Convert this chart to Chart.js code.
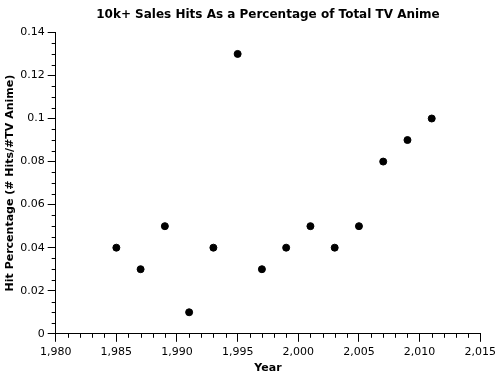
<!DOCTYPE html>
<html><head><meta charset="utf-8">
<script src="https://cdn.jsdelivr.net/npm/chart.js@4/dist/chart.umd.min.js"></script>
<style>html,body{margin:0;padding:0;background:#fff;}#wrap{width:500px;height:380px;}</style>
</head><body><div id="wrap"><canvas id="c" width="500" height="380"></canvas></div>
<script>
const years = [1985, 1987, 1989, 1991, 1993, 1995, 1997, 1999, 2001, 2003, 2005, 2007, 2009, 2011];
const hitPct = [0.04, 0.03, 0.05, 0.01, 0.04, 0.13, 0.03, 0.04, 0.05, 0.04, 0.05, 0.08, 0.09, 0.10];
const chartTitle = '10k+ Sales Hits As a Percentage of Total TV Anime';
const xTitle = 'Year';
const yTitle = 'Hit Percentage (# Hits/#TV Anime)';

const FONT = "'DejaVu Sans', Verdana, sans-serif";

const minorTicks = {
  id: 'minorTicks',
  afterDraw(chart) {
    const ctx = chart.ctx, xs = chart.scales.x, ys = chart.scales.y;
    ctx.save();
    ctx.strokeStyle = '#000';
    ctx.lineWidth = 1;
    ctx.beginPath();
    for (let v = 1980; v <= 2015; v++) {
      if (v % 5 === 0) continue;
      const px = Math.round(xs.getPixelForValue(v)) + 0.5;
      ctx.moveTo(px, ys.bottom);
      ctx.lineTo(px, ys.bottom + 4);
    }
    for (let i = 0; i <= 28; i++) {
      if (i % 4 === 0) continue;
      const py = Math.round(ys.getPixelForValue(i * 0.005)) + 0.5;
      ctx.moveTo(xs.left - 4, py);
      ctx.lineTo(xs.left, py);
    }
    ctx.stroke();
    ctx.restore();
  }
};

new Chart(document.getElementById('c'), {
  type: 'scatter',
  data: {
    datasets: [{
      data: years.map((y, i) => ({ x: y, y: hitPct[i] })),
      backgroundColor: '#000',
      borderColor: '#000',
      pointRadius: 3.5,
      pointHoverRadius: 3.5
    }]
  },
  options: {
    responsive: false,
    animation: false,
    devicePixelRatio: 1,
    layout: { padding: { left: 4, right: 7, top: 0, bottom: 6 } },
    plugins: {
      legend: { display: false },
      tooltip: { enabled: false },
      title: {
        display: true, text: chartTitle, color: '#000', fullSize: false,
        font: { family: FONT, size: 12, weight: 'bold' },
        padding: { top: 8, bottom: 10 }
      }
    },
    scales: {
      x: {
        type: 'linear', min: 1980, max: 2015,
        border: { color: '#000', width: 1 },
        grid: { display: true, drawOnChartArea: false, tickLength: 8, color: '#000' },
        ticks: { stepSize: 5, color: '#000', font: { family: FONT, size: 11 }, padding: 4, maxRotation: 0 },
        title: { display: true, text: xTitle, color: '#000', font: { family: FONT, size: 11, weight: 'bold', lineHeight: 1 }, padding: { top: 0, bottom: 0 } }
      },
      y: {
        type: 'linear', min: 0, max: 0.14,
        border: { color: '#000', width: 1 },
        grid: { display: true, drawOnChartArea: false, tickLength: 8, color: '#000' },
        ticks: { stepSize: 0.02, color: '#000', font: { family: FONT, size: 11 }, padding: 3,
                 callback: v => String(+Number(v).toFixed(2)) },
        title: { display: true, text: yTitle, color: '#000', font: { family: FONT, size: 11, weight: 'bold' }, padding: { top: 0, bottom: 0 } }
      }
    }
  },
  plugins: [minorTicks]
});
</script>
</body></html>
